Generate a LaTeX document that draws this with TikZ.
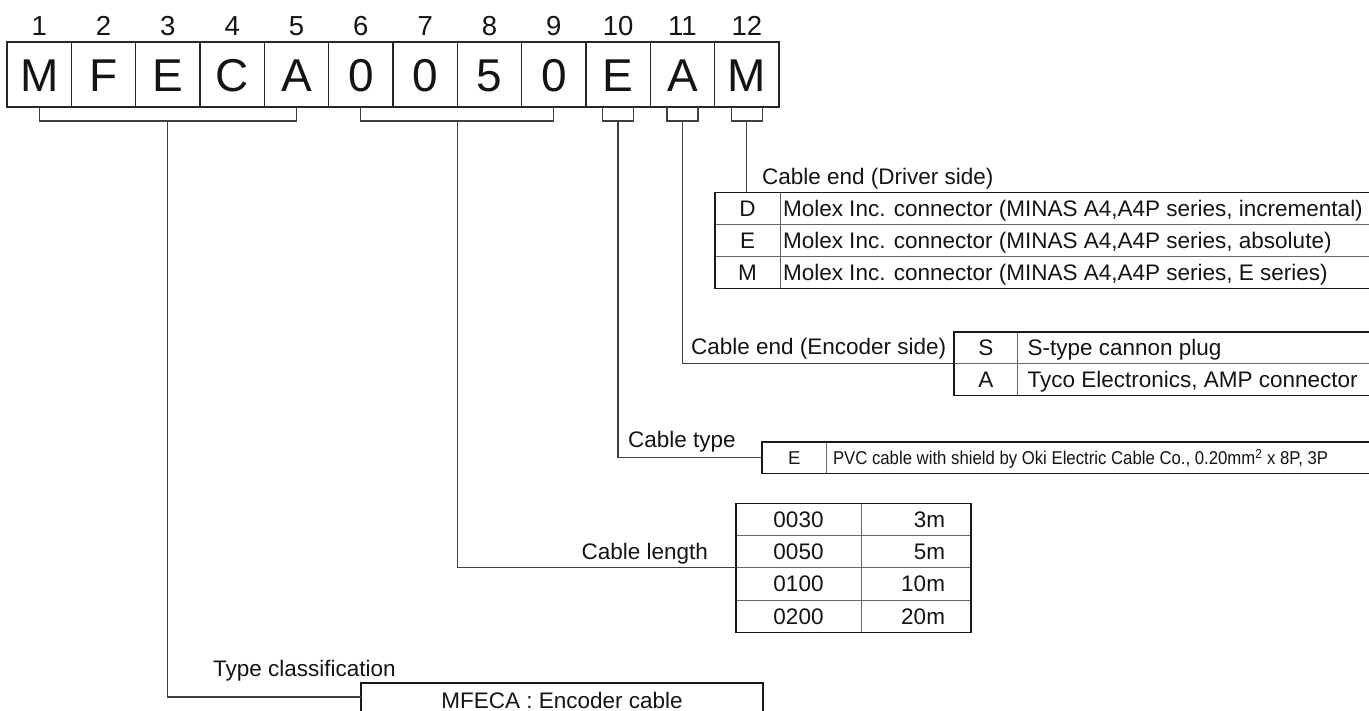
\documentclass[tikz,border=0pt]{standalone}
\usepackage{fontspec}
\setmainfont{Liberation Sans}
\newfontfamily\narrowfont[FakeStretch=0.9]{Liberation Sans}
\begin{document}
\begin{tikzpicture}[x=1pt,y=-1pt,
  every node/.style={inner sep=0pt, outer sep=0pt, text=black!92},
  cbox/.style={draw=black!85, line width=1.3pt, minimum width=64.33pt, minimum height=65pt,
    text height=35pt, text depth=0pt, font=\fontsize{46}{50}\selectfont},
  num/.style={anchor=base, font=\fontsize{27.5}{30}\selectfont},
  conn/.style={draw=black!75, line width=1.3pt},
  lbl/.style={font=\fontsize{22.5}{26}\selectfont},
  cell/.style={draw=black!60, line width=0.9pt, anchor=north west, minimum height=32pt,
    text height=16pt, text depth=0pt, lbl},
  outer/.style={draw=black!90, line width=1.6pt},
  dtxt/.style={lbl, anchor=base west},
  small/.style={font=\fontsize{18.6}{22}\selectfont},
]
\useasboundingbox (0,0) rectangle (1369,711);
\clip (0,0) rectangle (1369,711);

% code boxes
\foreach \c [count=\i] in {M,F,E,C,A,0,0,5,0,E,A,M}{
  \node[cbox, anchor=north west] (b\i) at ({7+(\i-1)*64.33},42) {\c};
  \node[num] (n\i) at ({7+(\i-0.5)*64.33},36) {\i};
}

% brackets
\draw[conn] (b1.south) -- ++(0,14) -| (b5.south);
\draw[conn] (b6.south) -- ++(0,14) -| (b9.south);
\foreach \i in {10,11,12}{
  \draw[conn] ([xshift=-15.5pt]b\i.south) -- ++(0,14) -| ([xshift=15.5pt]b\i.south);
  \coordinate (m\i) at ([yshift=-14pt]b\i.south);
}
\coordinate (g1) at ([yshift=-14pt]b3.south);
\coordinate (g2) at ([yshift=-14pt]b7.south east);

% Driver side table
\node[cell, minimum width=65pt] (dk1) at (715,192.5) {D};
\node[cell, minimum width=620pt] (dd1) at (780,192.5) {};
\node[cell, minimum width=65pt] (dk2) at (715,224.5) {E};
\node[cell, minimum width=620pt] (dd2) at (780,224.5) {};
\node[cell, minimum width=65pt] (dk3) at (715,256.5) {M};
\node[cell, minimum width=620pt] (dd3) at (780,256.5) {};
\node[dtxt] (dt1) at ([xshift=3pt,yshift=-8pt]dd1.west) {Molex Inc. connector (MINAS A4,A4P series, incremental)};
\node[dtxt] (dt2) at ([xshift=3pt,yshift=-8pt]dd2.west) {Molex Inc. connector (MINAS A4,A4P series, absolute)};
\node[dtxt] (dt3) at ([xshift=3pt,yshift=-8pt]dd3.west) {Molex Inc. connector (MINAS A4,A4P series, E series)};
\draw[outer] (dk1.north west) rectangle (dd3.south east);
\node[dtxt] (ldrv) at (762,185) {Cable end (Driver side)};
\draw[conn] (m12) -- (m12 |- dk1.north);

% Encoder side table
\node[cell, minimum width=63.5pt, minimum height=31.7pt] (ek1) at (954,332) {S};
\node[cell, minimum width=400pt, minimum height=31.7pt] (ed1) at (1017.5,332) {};
\node[cell, minimum width=63.5pt, minimum height=31.7pt] (ek2) at (954,363.7) {A};
\node[cell, minimum width=400pt, minimum height=31.7pt] (ed2) at (1017.5,363.7) {};
\node[dtxt] (et1) at ([xshift=10pt,yshift=-8pt]ed1.west) {S-type cannon plug};
\node[dtxt] (et2) at ([xshift=10pt,yshift=-8pt]ed2.west) {Tyco Electronics, AMP connector};
\draw[outer] (ek1.north west) rectangle (ed2.south east);
\node[dtxt] (lenc) at (691,355) {Cable end (Encoder side)};
\draw[conn] (m11) |- (ek1.south west);

% Cable type table
\node[cell, small, text height=13.3pt, minimum width=64.5pt, minimum height=31.3pt] (tk) at (762,442) {E};
\node[cell, minimum width=600pt, minimum height=31.3pt] (td) at (826.5,442) {};
\node[anchor=base west, font=\narrowfont\fontsize{18.6}{22}\selectfont] (tt) at ([xshift=6.5pt,yshift=-6.7pt]td.west) {PVC cable with shield by Oki Electric Cable Co., 0.20mm\textsuperscript{2} x 8P, 3P};
\draw[outer] (tk.north west) rectangle (td.south east);
\node[dtxt] (ltype) at (628,447) {Cable type};
\draw[conn] (m10) |- (tk.west);

% Cable length table
\foreach \k/\v [count=\i] in {0030/3m,0050/5m,0100/10m,0200/20m}{
  \node[cell, minimum width=125pt, minimum height=32.25pt] (lk\i) at (736,{503.3+(\i-1)*32.25}) {\k};
  \node[cell, minimum width=110pt, minimum height=32.25pt] (lv\i) at (861,{503.3+(\i-1)*32.25}) {};
  \node[lbl, anchor=base east] (lt\i) at ([xshift=-26pt,yshift=-8pt]lv\i.east) {\v};
}
\draw[outer] (lk1.north west) rectangle (lv4.south east);
\node[lbl, anchor=base east] (llen) at (708,559) {Cable length};
\draw[conn] (g2) |- (lk2.south west);

% Type classification
\node[draw=black!90, line width=1.6pt, anchor=north west, minimum width=402pt, minimum height=34pt,
  text height=16pt, text depth=0pt, lbl] (tc) at (361,683) {MFECA : Encoder cable};
\node[dtxt] (lcls) at (213,676) {Type classification};
\draw[conn] (g1) |- ([yshift=-14pt]tc.north west);
\end{tikzpicture}
\end{document}
